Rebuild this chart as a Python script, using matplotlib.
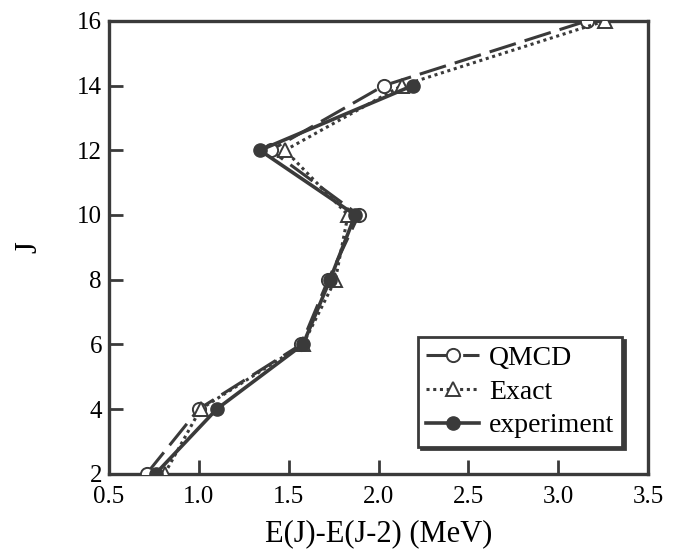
import matplotlib
matplotlib.use("Agg")
import matplotlib.pyplot as plt

plt.rcParams["font.family"] = ["Liberation Serif", "DejaVu Serif"]

# spin values and E(J)-E(J-2) in MeV
spin = [2, 4, 6, 8, 10, 12, 14, 16]
qmcd = [0.71, 1.00, 1.57, 1.72, 1.89, 1.40, 2.03, 3.16]
exact = [0.81, 1.01, 1.58, 1.76, 1.83, 1.48, 2.13, 3.26]
spin_exp = [2, 4, 6, 8, 10, 12, 14]
experiment = [0.76, 1.10, 1.58, 1.73, 1.87, 1.34, 2.19]

x_ticks = [0.5, 1.0, 1.5, 2.0, 2.5, 3.0, 3.5]
y_ticks = [2, 4, 6, 8, 10, 12, 14, 16]

ink = "#3a3a3a"

fig = plt.figure(figsize=(6.76, 5.49), dpi=100)
ax = fig.add_axes([0.161, 0.137, 0.798, 0.825])

ax.plot(qmcd, spin, color=ink, lw=2.2, dashes=(9, 3), marker="o", ms=9.5,
        mfc="white", mec=ink, mew=1.4, label="QMCD", zorder=3)
ax.plot(exact, spin, color=ink, lw=2.2, ls=(0, (1, 1.2)), marker="^", ms=10.5,
        mfc="white", mec=ink, mew=1.4, label="Exact", zorder=3)
ax.plot(experiment, spin_exp, color=ink, lw=2.6, ls="-", marker="o", ms=9.5,
        mfc=ink, mec=ink, label="experiment", zorder=4)

ax.set_xlim(0.5, 3.5)
ax.set_ylim(2, 16)
ax.set_xticks(x_ticks)
ax.set_xticklabels([f"{v:.1f}" for v in x_ticks])
ax.set_yticks(y_ticks)
ax.tick_params(direction="in", length=10, width=2.0, labelsize=18, colors=ink,
               top=False, right=False)
ax.tick_params(axis="x", pad=9)
ax.tick_params(axis="y", pad=5)
for tick_label in ax.get_xticklabels() + ax.get_yticklabels():
    tick_label.set_color("black")
for spine in ax.spines.values():
    spine.set_linewidth(2.4)
    spine.set_color(ink)

ax.set_xlabel("E(J)-E(J-2) (MeV)", fontsize=22, labelpad=8)
ax.set_ylabel("J", fontsize=22)
ax.yaxis.set_label_coords(-0.122, 0.5)

leg = ax.legend(loc="lower right", bbox_to_anchor=(0.952, 0.06), fontsize=20,
                frameon=True, fancybox=False, shadow={"color": ink, "alpha": 1},
                handlelength=1.9, handletextpad=0.35, borderpad=0.3,
                labelspacing=0.3, borderaxespad=0)
leg.get_frame().set_edgecolor(ink)
leg.get_frame().set_linewidth(2.0)

fig.savefig("out.png", dpi=100)
